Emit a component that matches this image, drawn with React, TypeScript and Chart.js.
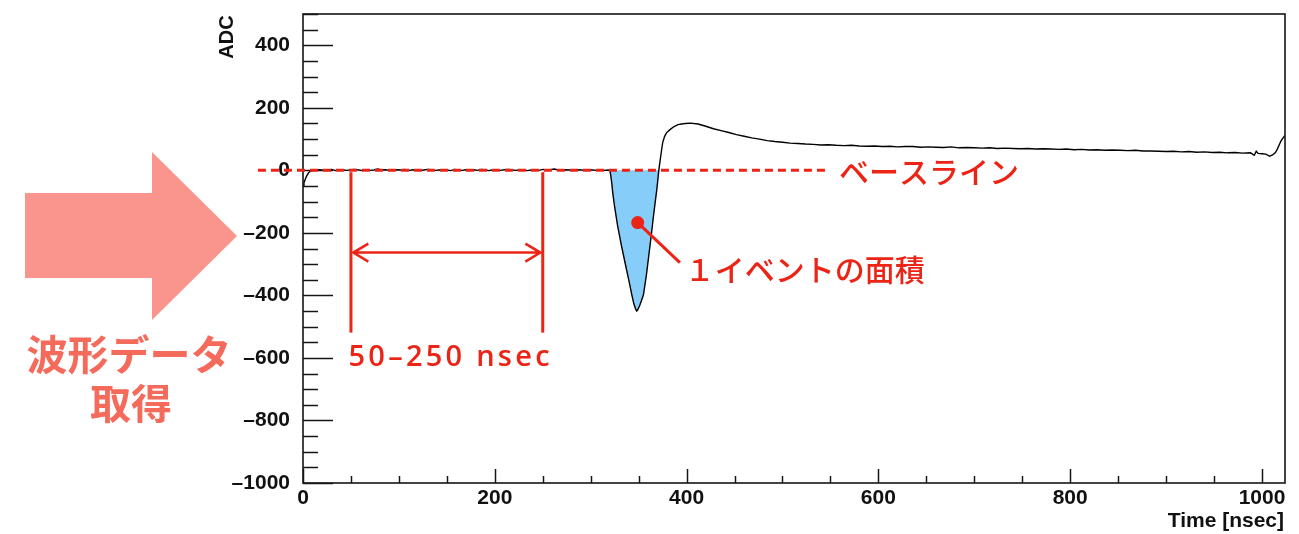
import React, { useEffect, useRef } from 'react';
import { Chart, registerables } from 'chart.js';

Chart.register(...registerables);

// ---- waveform data (time in nsec, ADC counts) ----
const startTimes = [0, 1, 2, 3, 4, 5, 6, 8, 10, 12];
const startAdc = [-48, -40, -32, -24, -17, -12, -7, -3, -1, 0];

const baselineTimes = [
  14, 18, 22, 26, 30, 34, 38, 42, 46, 50, 54, 58, 62, 66, 70, 74, 78, 82, 86, 90,
  94, 98, 102, 106, 110, 114, 118, 122, 126, 130, 134, 138, 142, 146, 150, 154, 158, 162, 166, 170,
  174, 178, 182, 186, 190, 194, 198, 202, 206, 210, 214, 218, 222, 226, 230, 234, 238, 242, 246, 250,
  254, 258, 262, 266, 270, 274, 278, 282, 286, 290, 294, 298, 302, 306, 310, 314, 318,
];
const baselineAdc = [
  1, 2, 0, 1, 3, -1, 2, 1, 0, 2, 3, 1, -1, 2, 0, 1, 4, 1, 2, 0,
  -1, 2, 1, 3, 0, 1, 2, -1, 1, 3, 2, 0, 1, 2, 1, -1, 3, 1, 0, 2,
  1, 2, 0, 3, 1, -1, 2, 1, 0, 2, 3, 1, 0, 2, 1, -1, 1, 2, 0, 3,
  1, 2, 4, 1, 0, 2, 1, -1, 2, 1, 0, 2, 1, 0, 1, 0, 1,
];

const pulseTimes = [
  320, 321, 322, 323, 325, 328, 332, 336, 340, 343, 345, 347, 348, 349, 351, 353, 355,
  358, 360, 363, 365, 367, 369, 371, 373, 375, 377, 379, 383, 387, 391, 395, 399,
];
const pulseAdc = [
  0, -18, -42, -72, -118, -176, -240, -298, -355, -400, -427, -445, -450, -446, -433, -416, -398,
  -337, -287, -212, -158, -108, -60, 0, 45, 88, 108, 120, 131, 140, 146, 148, 150,
];

const tailTimes = [
  404, 412, 420, 428, 436, 444, 452, 460, 468, 476, 484, 492, 500, 508, 516, 524, 532, 540, 548, 556,
  564, 572, 580, 588, 596, 604, 612, 620, 628, 636, 644, 652, 660, 668, 676, 684, 692, 700, 708, 716,
  724, 732, 740, 748, 756, 764, 772, 780, 788, 796, 804, 812, 820, 828, 836, 844, 852, 860, 868, 876,
  884, 892, 900, 908, 916, 924, 932, 940, 948, 956, 964, 972, 980, 988,
  992, 994, 996, 1000, 1004, 1008, 1011, 1014, 1016, 1018, 1020, 1022, 1024,
];
const tailAdc = [
  151, 148, 141, 133, 127, 121, 114, 109, 104, 100, 95, 92, 90, 87, 86, 84, 83, 81, 82, 80,
  79, 80, 78, 77, 78, 76, 77, 75, 76, 76, 74, 75, 74, 73, 75, 72, 73, 72, 71, 72,
  70, 71, 70, 69, 70, 68, 69, 68, 67, 68, 66, 67, 65, 66, 64, 65, 64, 63, 64, 62,
  62, 61, 60, 61, 59, 60, 58, 59, 57, 58, 56, 57, 55, 56,
  48, 61, 54, 53, 52, 45, 49, 57, 68, 82, 95, 104, 112,
];

const timeNs = [...startTimes, ...baselineTimes, ...pulseTimes, ...tailTimes];
const adcValues = [...startAdc, ...baselineAdc, ...pulseAdc, ...tailAdc];

// axis ranges / ticks
const xRange = [0, 1024];
const yRange = [-1000, 500];
const xTickValues = [0, 200, 400, 600, 800, 1000];
const yTickValues = [-1000, -800, -600, -400, -200, 0, 200, 400];
const xMajorStep = 200;
const yMajorStep = 200;
const minorStep = 50;

// annotation values (data coordinates)
const windowStart = 50;
const windowEnd = 250;
const eventWindow = [320, 371];

const RED = '#ec2416';
const BLUE = '#86cdf9';
const SALMON = '#f9958c';
const SALMON_TEXT = '#f46a5b';
const CJK = '"Noto Sans CJK JP", "Noto Sans", sans-serif';
const LATIN = '"Liberation Sans", Arial, Helvetica, sans-serif';

const fmt = (v: number) => (v < 0 ? '\u2013' + Math.abs(v) : String(v));

const decorPlugin = {
  id: 'decor',
  afterDatasetsDraw(chart: any) {
    const { ctx, chartArea: a, scales } = chart;
    const x = scales.x;
    const y = scales.y;
    ctx.save();

    // frame
    ctx.strokeStyle = '#151515';
    ctx.lineWidth = 1.6;
    ctx.setLineDash([]);
    ctx.strokeRect(a.left, a.top, a.right - a.left, a.bottom - a.top);

    // y ticks (inside)
    ctx.lineWidth = 1.5;
    for (let v = yRange[0]; v <= yRange[1]; v += minorStep) {
      const py = Math.round(y.getPixelForValue(v)) + 0.5;
      const len = v % yMajorStep === 0 ? 30 : 15;
      ctx.beginPath();
      ctx.moveTo(a.left, py);
      ctx.lineTo(a.left + len, py);
      ctx.stroke();
    }
    // x ticks (inside)
    for (let v = xRange[0]; v <= xRange[1]; v += minorStep) {
      const px = Math.round(x.getPixelForValue(v)) + 0.5;
      const len = v % xMajorStep === 0 ? 14 : 7;
      ctx.beginPath();
      ctx.moveTo(px, a.bottom);
      ctx.lineTo(px, a.bottom - len);
      ctx.stroke();
    }

    // axis titles
    ctx.fillStyle = '#111';
    ctx.font = `bold 20px ${LATIN}`;
    ctx.save();
    ctx.translate(233, 37);
    ctx.rotate(-Math.PI / 2);
    ctx.textAlign = 'center';
    ctx.textBaseline = 'alphabetic';
    ctx.fillText('ADC', 0, 0);
    ctx.restore();
    ctx.font = `bold 21px ${LATIN}`;
    ctx.textAlign = 'right';
    ctx.textBaseline = 'alphabetic';
    ctx.fillText('Time [nsec]', a.right - 1, 527);

    // ---- red annotations ----
    ctx.strokeStyle = RED;
    ctx.fillStyle = RED;
    ctx.lineWidth = 3;

    // baseline dashed
    ctx.setLineDash([8, 5]);
    const y0 = y.getPixelForValue(0);
    ctx.beginPath();
    ctx.moveTo(x.getPixelForValue(-47), y0);
    ctx.lineTo(x.getPixelForValue(549), y0);
    ctx.stroke();
    ctx.setLineDash([]);

    ctx.font = `500 30px ${CJK}`;
    ctx.textAlign = 'left';
    ctx.textBaseline = 'middle';
    ctx.fillText('ベースライン', x.getPixelForValue(559), y.getPixelForValue(-4));

    // window lines
    for (const t of [windowStart, windowEnd]) {
      const px = x.getPixelForValue(t);
      ctx.beginPath();
      ctx.moveTo(px, y.getPixelForValue(-6));
      ctx.lineTo(px, y.getPixelForValue(-519));
      ctx.stroke();
    }
    // double arrow
    const ay = y.getPixelForValue(-263);
    const ax1 = x.getPixelForValue(windowStart + 2.5);
    const ax2 = x.getPixelForValue(windowEnd - 2.5);
    ctx.lineWidth = 2.6;
    ctx.beginPath();
    ctx.moveTo(ax1, ay);
    ctx.lineTo(ax2, ay);
    ctx.moveTo(ax1 + 15, ay - 9);
    ctx.lineTo(ax1, ay);
    ctx.lineTo(ax1 + 15, ay + 9);
    ctx.moveTo(ax2 - 15, ay - 9);
    ctx.lineTo(ax2, ay);
    ctx.lineTo(ax2 - 15, ay + 9);
    ctx.stroke();

    ctx.font = `600 29px "Open Sans", "Noto Sans", sans-serif`;
    ctx.textBaseline = 'alphabetic';
    const label = '50\u2013250 nsec';
    const targetW = 201;
    const w = ctx.measureText(label).width;
    const sp = Math.max(0, (targetW - w) / (label.length - 1));
    let cx = x.getPixelForValue(windowStart - 2.5);
    const cy = y.getPixelForValue(-627);
    for (const ch of label) {
      ctx.fillText(ch, cx, cy);
      cx += ctx.measureText(ch).width + sp;
    }

    // event area marker
    const dx = x.getPixelForValue(349);
    const dy = y.getPixelForValue(-167);
    ctx.lineWidth = 3;
    ctx.beginPath();
    ctx.moveTo(dx, dy);
    ctx.lineTo(x.getPixelForValue(393), y.getPixelForValue(-295));
    ctx.stroke();
    ctx.beginPath();
    ctx.arc(dx, dy, 6.5, 0, Math.PI * 2);
    ctx.fill();
    ctx.font = `500 30px ${CJK}`;
    ctx.textBaseline = 'middle';
    ctx.fillText('１イベントの面積', x.getPixelForValue(398), y.getPixelForValue(-317));

    // ---- left arrow + caption ----
    ctx.fillStyle = SALMON;
    ctx.beginPath();
    ctx.moveTo(25, 193);
    ctx.lineTo(152, 193);
    ctx.lineTo(152, 152);
    ctx.lineTo(237, 236);
    ctx.lineTo(152, 320);
    ctx.lineTo(152, 278);
    ctx.lineTo(25, 278);
    ctx.closePath();
    ctx.fill();

    ctx.fillStyle = SALMON_TEXT;
    ctx.font = `bold 41px ${CJK}`;
    ctx.textAlign = 'center';
    ctx.textBaseline = 'middle';
    ctx.fillText('波形データ', 129, 354);
    ctx.fillText('取得', 131, 403);

    ctx.restore();
  },
};

export default function App() {
  const canvasRef = useRef<HTMLCanvasElement | null>(null);

  useEffect(() => {
    document.body.style.margin = '0';
    const canvas = canvasRef.current;
    if (!canvas) return;

    const points = timeNs.map((t, i) => ({ x: t, y: adcValues[i] }));
    const pulseFill = points.filter((p) => p.x >= eventWindow[0] && p.x <= eventWindow[1]);

    const zeroPad = (s: any) => {
      s.paddingTop = 0;
      s.paddingBottom = 0;
      s.paddingLeft = 0;
      s.paddingRight = 0;
    };

    const tickFont = { family: 'Liberation Sans', size: 21, weight: 'bold' as const };

    const chart = new Chart(canvas, {
      type: 'line',
      data: {
        datasets: [
          {
            data: points,
            borderColor: '#000',
            borderWidth: 1.4,
            pointRadius: 0,
            tension: 0,
            fill: false,
          },
          {
            data: pulseFill,
            borderWidth: 0,
            borderColor: 'rgba(0,0,0,0)',
            backgroundColor: BLUE,
            pointRadius: 0,
            tension: 0,
            fill: 'origin',
          },
        ],
      },
      options: {
        responsive: false,
        animation: false,
        devicePixelRatio: 1,
        events: [],
        layout: { padding: { left: 223, right: 14, top: 14, bottom: 0 } },
        plugins: {
          legend: { display: false },
          tooltip: { enabled: false },
        },
        scales: {
          x: {
            type: 'linear',
            min: xRange[0],
            max: xRange[1],
            grid: { display: false, drawTicks: false },
            border: { display: false },
            afterBuildTicks: (s: any) => {
              s.ticks = xTickValues.map((v) => ({ value: v }));
            },
            ticks: {
              autoSkip: false,
              maxRotation: 0,
              padding: 3,
              color: '#111',
              font: tickFont,
              callback: (v: any) => fmt(Number(v)),
            },
            afterFit: (s: any) => {
              s.height = 51;
              zeroPad(s);
            },
          },
          y: {
            type: 'linear',
            min: yRange[0],
            max: yRange[1],
            grid: { display: false, drawTicks: false },
            border: { display: false },
            afterBuildTicks: (s: any) => {
              s.ticks = yTickValues.map((v) => ({ value: v }));
            },
            ticks: {
              autoSkip: false,
              padding: 13,
              color: '#111',
              font: tickFont,
              callback: (v: any) => fmt(Number(v)),
            },
            afterFit: (s: any) => {
              s.width = 80;
              zeroPad(s);
            },
          },
        },
      },
      plugins: [decorPlugin],
    });

    return () => chart.destroy();
  }, []);

  return (
    <div style={{ width: 1299, height: 534, position: 'relative' }}>
      <canvas ref={canvasRef} width={1299} height={534} style={{ display: 'block' }} />
    </div>
  );
}
